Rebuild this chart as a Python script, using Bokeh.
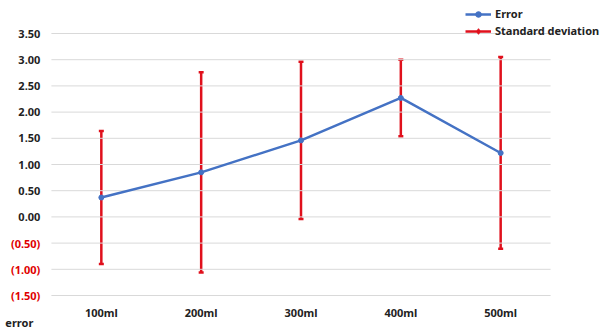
from bokeh.plotting import figure
from bokeh.models import (Range1d, FactorRange, ColumnDataSource, Whisker, TeeHead, Legend,
                          LegendItem)
from bokeh.transform import dodge
from bokeh.core.properties import value
from bokeh.embed import file_html
from bokeh.resources import INLINE

categories = ["100ml", "200ml", "300ml", "400ml", "500ml"]
error = [0.37, 0.85, 1.46, 2.27, 1.22]
std_dev = [1.27, 1.91, 1.50, 0.73, 1.83]
y_ticks = [3.5, 3.0, 2.5, 2.0, 1.5, 1.0, 0.5, 0.0, -0.5, -1.0, -1.5]
y_tick_labels = ["3.50", "3.00", "2.50", "2.00", "1.50", "1.00", "0.50", "0.00",
                 "(0.50)", "(1.00)", "(1.50)"]
y_title = "error"

FONT = "Noto Sans"
BLUE = "#4472C4"
RED = "#E0101C"
NEG = "#E00000"
TXT = "#222222"

W, H = 601, 331
Y0, Y1 = -1.5, 3.5
TOP_PX, BOTTOM_PX = 33, 36
PPU = (H - TOP_PX - BOTTOM_PX) / (Y1 - Y0)

upper = [e + s for e, s in zip(error, std_dev)]
lower = [e - s for e, s in zip(error, std_dev)]
src = ColumnDataSource(dict(x=categories, y=error, upper=upper, lower=lower))

x_range = FactorRange(factors=categories, range_padding=0.51, range_padding_units="absolute")
y_range = Range1d(Y0 - BOTTOM_PX / PPU, Y1 + TOP_PX / PPU)

p = figure(width=W, height=H, x_range=x_range, y_range=y_range,
           output_backend="svg", toolbar_location=None,
           min_border_left=0, min_border_right=0, min_border_top=0, min_border_bottom=0)
p.title.visible = False
p.axis.visible = False
p.grid.visible = False
p.outline_line_color = None

# horizontal gridlines across the category band
gsrc = ColumnDataSource(dict(x0=[categories[0]] * len(y_ticks),
                             x1=[categories[-1]] * len(y_ticks), y=y_ticks))
p.segment(x0=dodge("x0", -0.5, range=x_range), x1=dodge("x1", 0.5, range=x_range),
          y0="y", y1="y", source=gsrc, line_color="#d9d9d9", line_width=1)

# y tick labels (black for positive, red in parentheses for negative)
tick_colors = [TXT if t >= 0 else NEG for t in y_ticks]
tsrc = ColumnDataSource(dict(x=[categories[0]] * len(y_ticks), y=y_ticks,
                             text=y_tick_labels, color=tick_colors))
p.text(x="x", y="y", text="text", source=tsrc, x_offset=-61, text_align="right",
       text_baseline="middle", text_color="color", text_font=value(FONT),
       text_font_style="bold", text_font_size="11px")

# x tick labels
xsrc = ColumnDataSource(dict(x=categories, y=[Y0] * len(categories), text=categories))
p.text(x="x", y="y", text="text", source=xsrc, y_offset=17, text_align="center",
       text_baseline="middle", text_color=TXT, text_font=value(FONT),
       text_font_style="bold", text_font_size="11px")

# axis title
p.text(x=[categories[0]], y=[Y0], text=[y_title], x_offset=-96, y_offset=27,
       text_align="left", text_baseline="middle", text_color=TXT, text_font=value(FONT),
       text_font_style="bold", text_font_size="11px")

whisk = Whisker(source=src, base="x", upper="upper", lower="lower",
                line_color=RED, line_width=2.5,
                upper_head=TeeHead(size=5, line_color=RED, line_width=2.5),
                lower_head=TeeHead(size=5, line_color=RED, line_width=2.5))
p.add_layout(whisk)

ln = p.line("x", "y", source=src, line_color=BLUE, line_width=2.5)
sc = p.scatter("x", "y", source=src, size=5, color=BLUE)

sd_line = p.line([categories[0], categories[0]], [10, 10], line_color=RED, line_width=2.5)
sd_pts = p.scatter([categories[0]], [10], marker="diamond", size=6, color=RED)

legend = Legend(items=[LegendItem(label="Error", renderers=[ln, sc]),
                       LegendItem(label="Standard deviation", renderers=[sd_line, sd_pts])],
                location=(465, 293), background_fill_alpha=0, border_line_color=None,
                label_text_font=FONT, label_text_font_style="bold", label_text_font_size="11px",
                label_text_color=TXT, glyph_width=26, glyph_height=14,
                label_height=14, spacing=2, padding=0, margin=0, label_standoff=4)
p.add_layout(legend, "center")

open("out.html", "w").write(file_html(p, INLINE))
